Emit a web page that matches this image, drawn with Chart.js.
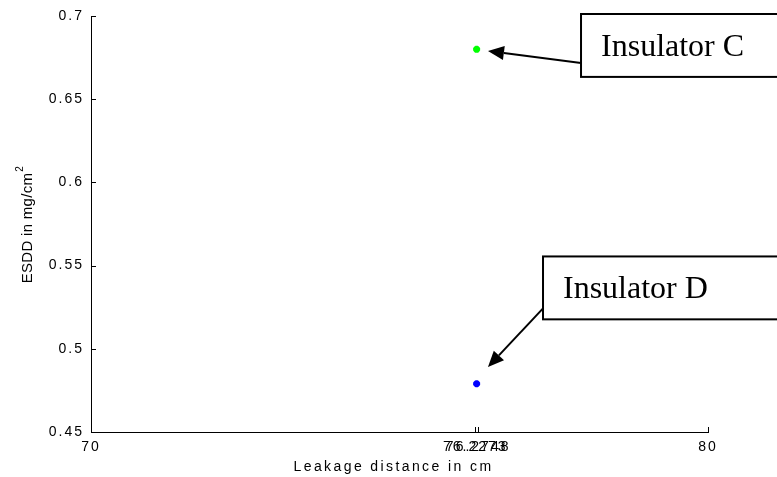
<!DOCTYPE html>
<html>
<head>
<meta charset="utf-8">
<script src="https://cdn.jsdelivr.net/npm/chart.js@4/dist/chart.umd.min.js"></script>
<style>
  html, body { margin: 0; padding: 0; background: #fff; }
  #wrap { width: 777px; height: 477px; }
</style>
</head>
<body>
<div id="wrap"><canvas id="chart" width="777" height="477"></canvas></div>
<script>
// data
var seriesNames = ["Insulator C", "Insulator D"];
var seriesColors = ["#00ff00", "#0000ff"];
var leakageDistance = [76.25, 76.25];
var esdd = [0.68, 0.479];

var xTicks = [70, 76.2273, 76.2748, 80];
var xTickLabels = ["70", "76.2273", "76.2748", "80"];
var yTicks = [0.45, 0.5, 0.55, 0.6, 0.65, 0.7];
var yTickLabels = ["0.45", "0.5", "0.55", "0.6", "0.65", "0.7"];

// callout boxes, in data units (box runs off the right edge)
var callouts = [
  { text: "Insulator C", left: 77.942, top: 0.7012, bottom: 0.6634,
    tail: [77.942, 0.6718], tip: [76.434, 0.679] },
  { text: "Insulator D", left: 77.326, top: 0.5555, bottom: 0.5177,
    tail: [77.326, 0.5243], tip: [76.434, 0.489] }
];

var sans = "'Liberation Sans', Arial, sans-serif";

var datasets = seriesNames.map(function (name, i) {
  return {
    label: name,
    data: [{ x: leakageDistance[i], y: esdd[i] }],
    pointStyle: "star",
    pointRadius: 3.5,
    borderWidth: 2.5,
    borderColor: seriesColors[i],
    backgroundColor: seriesColors[i]
  };
});

// MATLAB style: inner ticks, axis titles, arrows and boxes
var extras = {
  id: "extras",
  beforeDraw: function (chart) {
    // tick labels in the original are spaced out
    chart.ctx.letterSpacing = "2px";
  },
  afterDraw: function (chart) {
    var ctx = chart.ctx;
    var xs = chart.scales.x, ys = chart.scales.y, area = chart.chartArea;
    ctx.save();
    ctx.strokeStyle = "#000";
    ctx.lineWidth = 1;
    xTicks.forEach(function (v) {
      var px = Math.round(xs.getPixelForValue(v)) + 0.5;
      ctx.beginPath();
      ctx.moveTo(px, area.bottom);
      ctx.lineTo(px, area.bottom - 5);
      ctx.stroke();
    });
    yTicks.forEach(function (v) {
      var py = Math.round(ys.getPixelForValue(v)) + 0.5;
      ctx.beginPath();
      ctx.moveTo(area.left, py);
      ctx.lineTo(area.left + 5, py);
      ctx.stroke();
    });

    // axis titles
    ctx.fillStyle = "#000";
    ctx.font = "14px " + sans;
    ctx.textAlign = "center";
    ctx.textBaseline = "middle";
    ctx.letterSpacing = "2.4px";
    ctx.fillText("Leakage distance in cm", (area.left + area.right) / 2 - 6, 467);

    ctx.letterSpacing = "0.3px";
    ctx.save();
    ctx.translate(28, (area.top + area.bottom) / 2);
    ctx.rotate(-Math.PI / 2);
    ctx.font = "15px " + sans;
    var main = "ESDD in mg/cm";
    var w = ctx.measureText(main).width;
    ctx.textAlign = "left";
    ctx.fillText(main, -(w + 8) / 2, 0);
    ctx.font = "10px " + sans;
    ctx.fillText("2", -(w + 8) / 2 + w + 1, -8);
    ctx.restore();
    ctx.letterSpacing = "0px";

    // callouts
    callouts.forEach(function (c) {
      var bl = xs.getPixelForValue(c.left);
      var bt = ys.getPixelForValue(c.top);
      var bb = ys.getPixelForValue(c.bottom);
      ctx.lineWidth = 2;
      ctx.strokeStyle = "#000";
      ctx.fillStyle = "#fff";
      ctx.fillRect(bl, bt, chart.width + 10 - bl, bb - bt);
      ctx.strokeRect(bl, bt, chart.width + 10 - bl, bb - bt);
      ctx.fillStyle = "#000";
      ctx.font = "32px 'Liberation Serif', 'Times New Roman', serif";
      ctx.textAlign = "left";
      ctx.textBaseline = "alphabetic";
      ctx.fillText(c.text, bl + 20, bb - 21);

      var tx = xs.getPixelForValue(c.tail[0]), ty = ys.getPixelForValue(c.tail[1]);
      var hx = xs.getPixelForValue(c.tip[0]), hy = ys.getPixelForValue(c.tip[1]);
      var ang = Math.atan2(hy - ty, hx - tx);
      var len = 16, half = 7;
      ctx.lineWidth = 2;
      ctx.beginPath();
      ctx.moveTo(tx, ty);
      ctx.lineTo(hx - Math.cos(ang) * len, hy - Math.sin(ang) * len);
      ctx.stroke();
      ctx.beginPath();
      ctx.moveTo(hx, hy);
      ctx.lineTo(hx - Math.cos(ang) * len - Math.sin(ang) * half, hy - Math.sin(ang) * len + Math.cos(ang) * half);
      ctx.lineTo(hx - Math.cos(ang) * len + Math.sin(ang) * half, hy - Math.sin(ang) * len - Math.cos(ang) * half);
      ctx.closePath();
      ctx.fill();
    });
    ctx.restore();
  }
};

var ctx = document.getElementById("chart").getContext("2d");
var myChart = new Chart(ctx, {
  type: "scatter",
  data: { datasets: datasets },
  options: {
    responsive: false,
    animation: false,
    layout: { padding: { top: 16, right: 69, left: 0, bottom: 0 } },
    plugins: {
      legend: { display: false },
      tooltip: { enabled: false }
    },
    scales: {
      x: {
        type: "linear",
        min: 70,
        max: 80,
        afterFit: function (scale) { scale.height = 45; },
        afterBuildTicks: function (scale) {
          scale.ticks = xTicks.map(function (v) { return { value: v }; });
        },
        ticks: {
          autoSkip: false,
          maxRotation: 0,
          padding: 7,
          color: "#000",
          font: { family: sans, size: 14 },
          callback: function (v) {
            var i = xTicks.indexOf(v);
            return i >= 0 ? xTickLabels[i] : "";
          }
        },
        grid: { display: true, drawOnChartArea: false, drawTicks: false },
        border: { display: true, color: "#000", width: 1 }
      },
      y: {
        type: "linear",
        min: 0.45,
        max: 0.7,
        afterFit: function (scale) { scale.width = 91; },
        afterBuildTicks: function (scale) {
          scale.ticks = yTicks.map(function (v) { return { value: v }; });
        },
        ticks: {
          autoSkip: false,
          padding: 7,
          color: "#000",
          font: { family: sans, size: 14 },
          callback: function (v) {
            var i = yTicks.indexOf(v);
            return i >= 0 ? yTickLabels[i] : "";
          }
        },
        grid: { display: true, drawOnChartArea: false, drawTicks: false },
        border: { display: true, color: "#000", width: 1 }
      }
    }
  },
  plugins: [extras]
});
</script>
</body>
</html>
